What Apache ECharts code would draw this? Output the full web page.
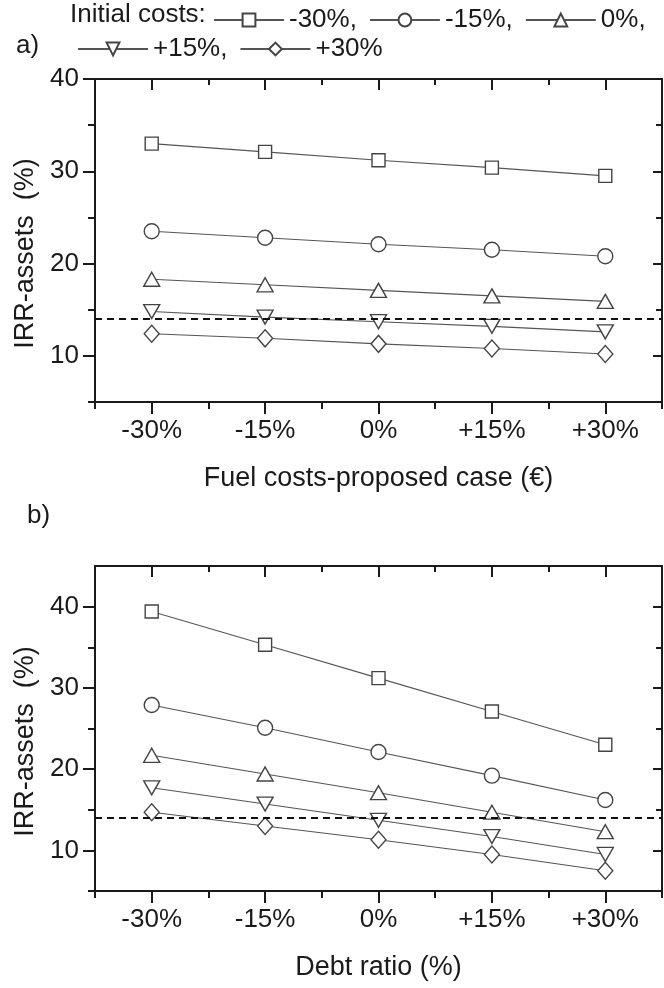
<!DOCTYPE html>
<html>
<head>
<meta charset="utf-8">
<script src="https://cdn.jsdelivr.net/npm/echarts@6/dist/echarts.min.js"></script>
<style>
  html, body { margin: 0; padding: 0; background: #fff; }
  #chart { width: 664px; height: 988px; }
</style>
</head>
<body>
<div id="chart"></div>
<script>
// x categories (same for both panels)
const steps = ['-30%', '-15%', '0%', '+15%', '+30%'];
// initial cost variants -> legend names
const costLevels = ['-30%', '-15%', '0%', '+15%', '+30%'];

// a) IRR-assets vs fuel costs
const fuelM30 = [33.0, 32.1, 31.2, 30.4, 29.5];
const fuelM15 = [23.5, 22.8, 22.1, 21.5, 20.8];
const fuel0 = [18.3, 17.7, 17.1, 16.5, 15.9];
const fuelP15 = [14.8, 14.2, 13.7, 13.2, 12.6];
const fuelP30 = [12.4, 11.9, 11.3, 10.8, 10.2];

// b) IRR-assets vs debt ratio
const debtM30 = [39.4, 35.3, 31.2, 27.1, 23.0];
const debtM15 = [27.9, 25.1, 22.1, 19.2, 16.2];
const debt0 = [21.7, 19.4, 17.1, 14.7, 12.3];
const debtP15 = [17.7, 15.7, 13.7, 11.7, 9.5];
const debtP30 = [14.7, 13.0, 11.3, 9.5, 7.5];

const hurdle = 14;
const yTicks = [10, 20, 30, 40];
const yMinor = [5, 15, 25, 35];

const font = 'Liberation Sans, Arial, sans-serif';
const ink = '#1a1a1a';

const markers = [
    { symbol: 'rect', size: [13, 13], rotate: 0 },
    { symbol: 'circle', size: 15, rotate: 0 },
    { symbol: 'triangle', size: [16, 14], rotate: 0 },
    { symbol: 'triangle', size: [16, 14], rotate: 180 },
    { symbol: 'diamond', size: [15, 17], rotate: 0 }
];

const chart = echarts.init(document.getElementById('chart'));

function tick(len, inside, extra) {
    return Object.assign({ show: true, inside: !!inside, length: len, lineStyle: { color: ink, width: 2 } }, extra || {});
}

function xAxes(grid, name, nameGap) {
    const line = { show: true, lineStyle: { color: ink, width: 2 } };
    return [
        {
            gridIndex: grid, type: 'category', position: 'bottom', data: steps, boundaryGap: true,
            axisLine: line,
            axisTick: tick(12, false, { alignWithLabel: true }),
            axisLabel: { fontSize: 26, margin: 16, color: ink, fontFamily: font },
            name: name, nameLocation: 'middle', nameGap: nameGap,
            nameTextStyle: { fontSize: 27, color: ink, fontFamily: font }
        },
        {
            gridIndex: grid, type: 'category', position: 'bottom', data: steps, boundaryGap: true,
            axisLine: { show: false },
            axisTick: tick(7, false, { alignWithLabel: false }),
            axisLabel: { show: false }
        },
        {
            gridIndex: grid, type: 'category', position: 'top', data: steps, boundaryGap: true,
            axisLine: line,
            axisTick: tick(11, true, { alignWithLabel: true }),
            axisLabel: { show: false }
        },
        {
            gridIndex: grid, type: 'category', position: 'top', data: steps, boundaryGap: true,
            axisLine: { show: false },
            axisTick: tick(6, true, { alignWithLabel: false }),
            axisLabel: { show: false }
        }
    ];
}

function yAxes(grid, max) {
    const line = { show: true, lineStyle: { color: ink, width: 2 } };
    const base = { gridIndex: grid, type: 'value', min: 5, max: max, splitLine: { show: false } };
    return [
        Object.assign({}, base, {
            position: 'left', axisLine: line,
            axisTick: tick(12, false, { customValues: yTicks }),
            axisLabel: { fontSize: 26, margin: 16, color: ink, fontFamily: font, customValues: yTicks },
            name: 'IRR-assets  (%)', nameLocation: 'middle', nameGap: 56,
            nameTextStyle: { fontSize: 27, color: ink, fontFamily: font, padding: [0, 26, 0, 0] }
        }),
        Object.assign({}, base, {
            position: 'left', axisLine: { show: false },
            axisTick: tick(7, false, { customValues: yMinor }),
            axisLabel: { show: false, customValues: yMinor }
        }),
        Object.assign({}, base, {
            position: 'right', axisLine: line,
            axisTick: tick(9, true, { customValues: yTicks }),
            axisLabel: { show: false, customValues: yTicks }
        }),
        Object.assign({}, base, {
            position: 'right', axisLine: { show: false },
            axisTick: tick(6, true, { customValues: yMinor }),
            axisLabel: { show: false, customValues: yMinor }
        })
    ];
}

function panelSeries(values, xIdx, yIdx) {
    return values.map(function (data, i) {
        const m = markers[i];
        const s = {
            name: costLevels[i], type: 'line', data: data,
            xAxisIndex: xIdx, yAxisIndex: yIdx,
            symbol: m.symbol, symbolSize: m.size, symbolRotate: m.rotate,
            showAllSymbol: true,
            lineStyle: { color: '#555', width: 1.1 },
            itemStyle: { color: '#fff', borderColor: '#444', borderWidth: 1.4 },
            emphasis: { disabled: true },
            z: 3
        };
        if (i === 0) {
            s.markLine = {
                silent: true, symbol: 'none', label: { show: false },
                lineStyle: { color: '#111', width: 2, type: [7, 5] },
                data: [{ yAxis: hurdle }]
            };
        }
        return s;
    });
}

const legendText = { fontSize: 26, color: ink, fontFamily: font };
const legendFmt = function (name) { return name === '+30%' ? name : name + ','; };

chart.setOption({
    animation: false,
    textStyle: { fontFamily: font },
    grid: [
        { left: 95, right: 2, top: 79, height: 323 },
        { left: 95, right: 2, top: 566, height: 325 }
    ],
    legend: [
        {
            data: costLevels.slice(0, 3), left: 208, top: 2, orient: 'horizontal',
            itemWidth: 70, itemHeight: 16, itemGap: 12, formatter: legendFmt,
            textStyle: legendText, selectedMode: false
        },
        {
            data: costLevels.slice(3), left: 72, top: 31, orient: 'horizontal',
            itemWidth: 70, itemHeight: 16, itemGap: 12, formatter: legendFmt,
            textStyle: legendText, selectedMode: false
        }
    ],
    graphic: [
        { type: 'text', left: 70, top: 2, style: { text: 'Initial costs:', fontSize: 26, fill: ink, fontFamily: font } },
        { type: 'text', left: 16, top: 33, style: { text: 'a)', fontSize: 26, fill: ink, fontFamily: font } },
        { type: 'text', left: 27, top: 503, style: { text: 'b)', fontSize: 26, fill: ink, fontFamily: font } }
    ],
    xAxis: xAxes(0, 'Fuel costs-proposed case (€)', 63).concat(xAxes(1, 'Debt ratio (%)', 63)),
    yAxis: yAxes(0, 40).concat(yAxes(1, 45)),
    series: panelSeries([fuelM30, fuelM15, fuel0, fuelP15, fuelP30], 0, 0)
        .concat(panelSeries([debtM30, debtM15, debt0, debtP15, debtP30], 4, 4))
});
</script>
</body>
</html>
